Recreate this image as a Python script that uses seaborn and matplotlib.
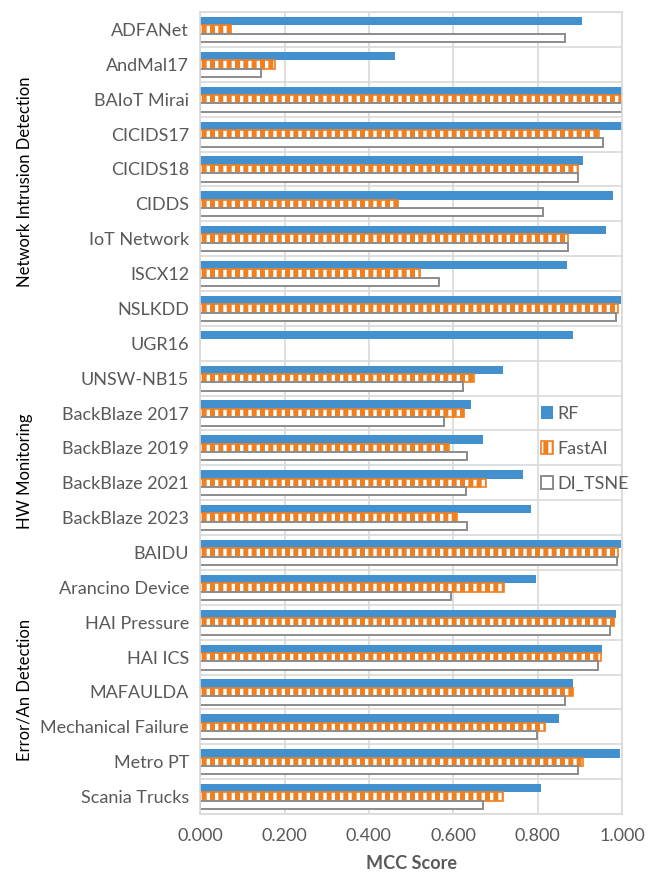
import pandas as pd
import numpy as np
import seaborn as sns
import matplotlib.pyplot as plt
from matplotlib.ticker import FormatStrFormatter, MultipleLocator

datasets = [
    "ADFANet", "AndMal17", "BAIoT Mirai", "CICIDS17", "CICIDS18", "CIDDS",
    "IoT Network", "ISCX12", "NSLKDD", "UGR16", "UNSW-NB15",
    "BackBlaze 2017", "BackBlaze 2019", "BackBlaze 2021", "BackBlaze 2023", "BAIDU",
    "Arancino Device", "HAI Pressure", "HAI ICS", "MAFAULDA", "Mechanical Failure",
    "Metro PT", "Scania Trucks",
]
rf = [0.905, 0.462, 1.000, 1.000, 0.907, 0.978, 0.961, 0.869, 0.998, 0.885, 0.719,
      0.643, 0.671, 0.766, 0.785, 0.998,
      0.795, 0.985, 0.953, 0.885, 0.851, 0.995, 0.808]
fastai = [0.073, 0.178, 0.999, 0.946, 0.896, 0.470, 0.873, 0.520, 0.991, np.nan, 0.650,
          0.625, 0.589, 0.677, 0.608, 0.991,
          0.721, 0.982, 0.951, 0.884, 0.817, 0.907, 0.719]
di_tsne = [0.865, 0.144, 0.999, 0.956, 0.896, 0.812, 0.872, 0.567, 0.985, np.nan, 0.622,
           0.577, 0.632, 0.630, 0.632, 0.988,
           0.594, 0.972, 0.943, 0.864, 0.798, 0.896, 0.670]
models = ["RF", "FastAI", "DI_TSNE"]
groups = ["Network Intrusion Detection", "HW Monitoring", "Error/An Detection"]

df = pd.DataFrame({"dataset": datasets, "RF": rf, "FastAI": fastai, "DI_TSNE": di_tsne})
long = df.melt(id_vars="dataset", var_name="model", value_name="score")

sns.set_style("white")
plt.rcParams['font.family'] = ['Lato', 'DejaVu Sans']
plt.rcParams['hatch.linewidth'] = 3.6

grey = "#595959"
fs = 13
fig = plt.figure(figsize=(6.52, 8.73), dpi=100)
ax = fig.add_axes([0.307, 0.0676, 0.647, 0.9186])

sns.barplot(data=long, y="dataset", x="score", hue="model", hue_order=models,
            order=datasets, orient="h", width=0.72, ax=ax, legend=False)

styles = [
    dict(facecolor="#4291CE", edgecolor="#4291CE", hatch=None, lw=0.0),
    dict(facecolor="white", edgecolor="#F07F1F", hatch="||", lw=1.2),
    dict(facecolor="white", edgecolor="#8C8C8C", hatch=None, lw=1.4),
]
for cont, st in zip(ax.containers, styles):
    for p in cont:
        p.set_facecolor(st["facecolor"])
        p.set_edgecolor(st["edgecolor"])
        p.set_linewidth(st["lw"])
        if st["hatch"]:
            p.set_hatch(st["hatch"])

handles = [cont.patches[0] for cont in ax.containers]
leg = ax.legend(handles, models, loc="upper left", bbox_to_anchor=(0.79, 0.518),
                frameon=False, fontsize=fs, handlelength=0.7, handleheight=0.7,
                handletextpad=0.25, labelspacing=1.05, borderaxespad=0)
for t in leg.get_texts():
    t.set_color(grey)

ax.set_xlim(0, 1.0)
ax.set_ylim(len(datasets) - 0.5, -0.5)
ax.xaxis.set_major_locator(MultipleLocator(0.2))
ax.xaxis.set_major_formatter(FormatStrFormatter("%.3f"))
ax.set_yticks(np.arange(-0.5, len(datasets), 1.0), minor=True)
ax.grid(True, axis="x", which="major", color="#D9D9D9", lw=1.2)
ax.grid(True, axis="y", which="minor", color="#D9D9D9", lw=1.2)
ax.grid(False, axis="y", which="major")
ax.set_axisbelow(True)
for s in ax.spines.values():
    s.set_color("#D9D9D9")
    s.set_linewidth(1.2)
ax.tick_params(axis="both", which="both", length=0, colors=grey, labelsize=fs)
ax.tick_params(axis="y", pad=8)
ax.tick_params(axis="x", pad=10)
ax.set_ylabel("")
ax.set_xlabel("MCC Score", fontsize=fs, fontweight="bold", color=grey, labelpad=8)

# group labels on the far left
for name, yc in zip(groups, [182, 471, 690]):
    fig.text(0.038, 1 - yc / 873, name, rotation=90, ha="center", va="center",
             fontsize=12, color="black")

fig.savefig("out.png", dpi=100)
